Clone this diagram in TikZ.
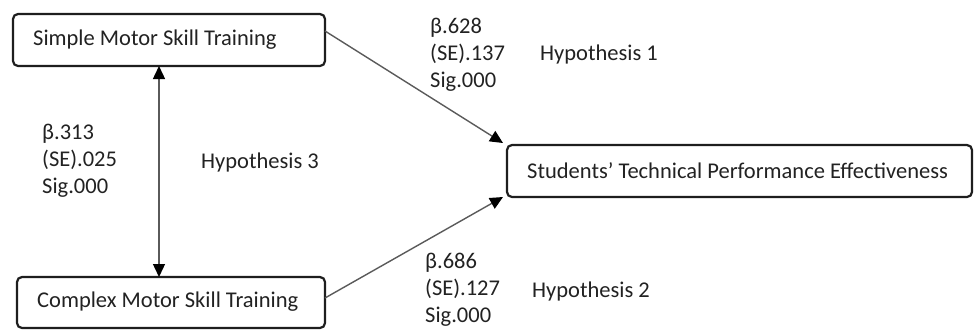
\documentclass[tikz,border=0pt]{standalone}
\usepackage{fontspec}
\setmainfont{Carlito}
\usetikzlibrary{arrows.meta}
\definecolor{txt}{HTML}{222222}
\definecolor{edge}{HTML}{1E1E1E}
\definecolor{conn}{HTML}{5A5A5A}
\tikzset{
  box/.style={draw=edge, line width=2.2pt, rounded corners=5pt, fill=white},
  lbl/.style={inner sep=0pt, text=txt, align=left, font=\fontsize{22.5}{27}\selectfont},
  conn/.style={draw=conn, line width=1.4pt, -{Triangle[length=13pt,width=12pt,color=black]}},
  bconn/.style={draw=conn, line width=1.4pt, {Triangle[length=13pt,width=12pt,color=black]}-{Triangle[length=13pt,width=12pt,color=black]}}
}
\begin{document}
\begin{tikzpicture}[x=1pt,y=-1pt]
\useasboundingbox (0,0) rectangle (974,330);
% boxes
\draw[box] (13,14) rectangle (325,66);
\node[lbl, anchor=west] (simple) at (33,40) {Simple Motor Skill Training};
\draw[box] (17,277) rectangle (325,328);
\node[lbl, anchor=west] (complex) at (37,302) {Complex Motor Skill Training};
\draw[box] (507,145) rectangle (972,197);
\node[lbl, anchor=west] (students) at (527,171) {Students’ Technical Performance Effectiveness};
% anchor coordinates
\coordinate (sb) at (159,66);
\coordinate (ct) at (159,277);
\coordinate (sr) at (325,31);
\coordinate (cr) at (325,298);
\coordinate (st1) at (503,143);
\coordinate (st2) at (503,197);
% connectors
\draw[bconn] (sb) -- (ct);
\draw[conn] (sr) -- (st1);
\draw[conn] (cr) -- (st2);
% labels
\node[lbl, anchor=west] (l1) at (430,55) {β.628\\(SE).137\\Sig.000};
\node[lbl, anchor=west] (h1) at (540,54) {Hypothesis 1};
\node[lbl, anchor=west] (l3) at (42,161) {β.313\\(SE).025\\Sig.000};
\node[lbl, anchor=west] (h3) at (201,162) {Hypothesis 3};
\node[lbl, anchor=west] (l2) at (425,290) {β.686\\(SE).127\\Sig.000};
\node[lbl, anchor=west] (h2) at (532,291) {Hypothesis 2};
\end{tikzpicture}
\end{document}
